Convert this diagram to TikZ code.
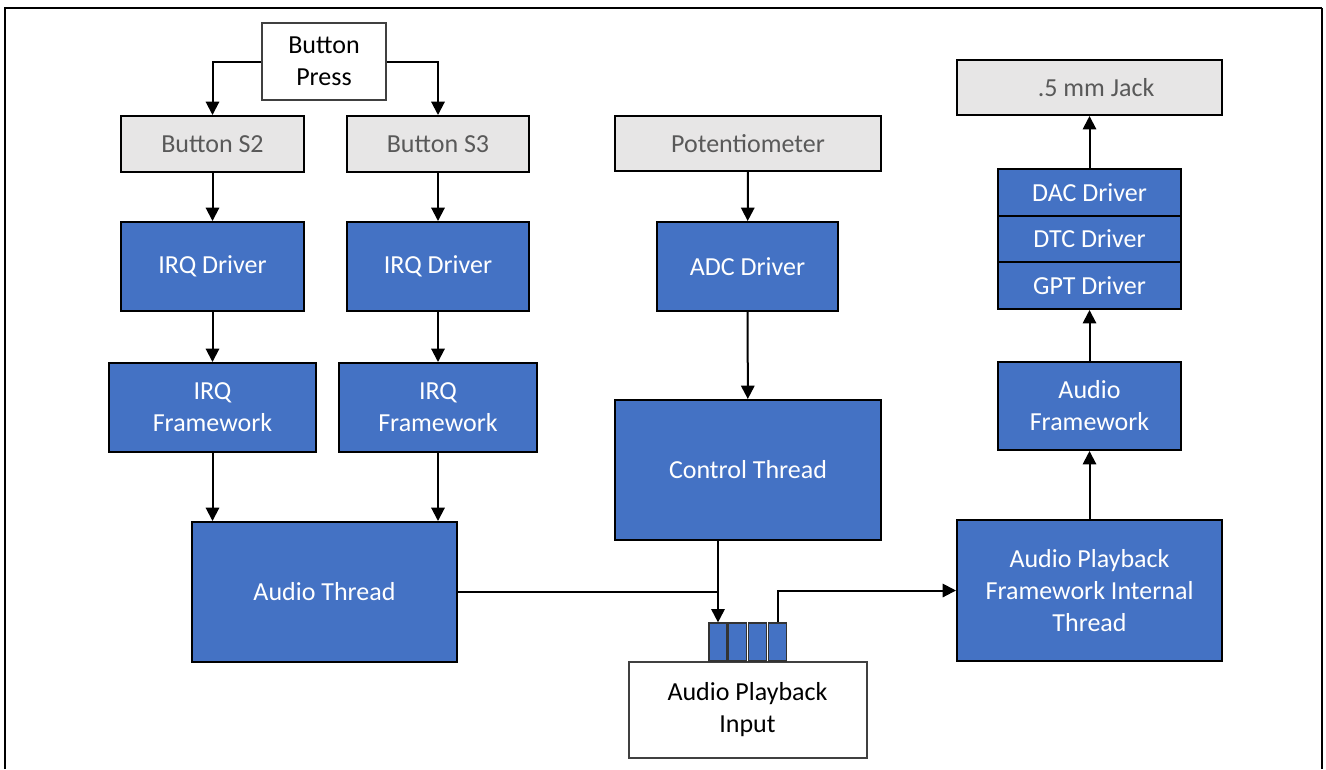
\documentclass[tikz,border=0pt]{standalone}
\usepackage{fontspec}
\setmainfont{Carlito}
\usetikzlibrary{arrows.meta,positioning}

\definecolor{swblue}{HTML}{4472C4}
\definecolor{hwgray}{HTML}{E7E6E6}
\definecolor{hwtext}{HTML}{595959}

\tikzset{
	base/.style={draw=black, line width=1.5pt, align=center, inner sep=0pt,
		font=\fontsize{19.5}{24}\selectfont},
	sw/.style={base, fill=swblue, text=white},
	hw/.style={base, fill=hwgray, text=hwtext},
	io/.style={base, draw=black!75, fill=white, text=black},
	fifo/.style={draw=black!80, line width=0.9pt, fill=swblue, inner sep=0pt,
		minimum width=13.5pt, minimum height=28.5pt},
	sz/.style 2 args={minimum width=#1*0.75pt, minimum height=#2*0.75pt},
	elbow/.style={to path={-| (\tikztotarget)}},
	elbowup/.style={to path={|- (\tikztotarget)}},
}

\begin{document}
\begin{tikzpicture}[x=0.75pt, y=-0.75pt, >={Triangle[width=10pt,length=10pt]}, line width=1.5pt]
		\useasboundingbox (0,0) rectangle (1326,769);
		% frame
		\draw (5,769) -- (5,8) -- (1322,8);
		\draw[line width=1pt] (1322,8) -- (1322,769);
		\draw 
			(324,61.5) node [io, sz={124}{77}] (press) {Button\\Press}
			(212.5,144) node [hw, sz={183}{56}] (s2) {Button S2}
			(438,144) node [hw, sz={182}{56}] (s3) {Button S3}
			(748,143.5) node [hw, sz={266}{55}] (pot) {Potentiometer}
			(1089.5,87.5) node [hw, sz={265}{55}] (jack) {\phantom{3}.5 mm Jack}
			(212.5,266.5) node [sw, sz={183}{89}] (irqa) {IRQ Driver}
			(438,266.5) node [sw, sz={182}{89}] (irqb) {IRQ Driver}
			(747.5,266.5) node [sw, sz={181}{89}] (adc) {ADC Driver}
			(1089.5,192.5) node [sw, sz={183}{47}] (dac) {DAC Driver}
			(1089.5,239) node [sw, sz={183}{46}] (dtc) {DTC Driver}
			(1089.5,285.5) node [sw, sz={183}{47}] (gpt) {GPT Driver}
			(212.5,407.5) node [sw, sz={207}{89}] (fwa) {IRQ\\Framework}
			(438,407.5) node [sw, sz={198}{89}] (fwb) {IRQ\\Framework}
			(748,470) node [sw, sz={266}{140}] (ctrl) {Control Thread}
			(1089.5,406) node [sw, sz={183}{88}] (afw) {Audio\\Framework}
			(324.5,592) node [sw, sz={265}{140}] (athr) {Audio Thread}
			(1089.5,590.5) node [sw, sz={265}{141}] (apfit) {Audio Playback\\Framework Internal\\Thread}
			(747.5,709.5) node [io, sz={238}{96}] (input) {Audio Playback\\Input}
			(718,642) node [fifo] (q1) {}
			(737.5,642) node [fifo] (q2) {}
			(757.5,642) node [fifo] (q3) {}
			(777.5,642) node [fifo] (q4) {}
			;
		% audio thread joins the control thread line
		\draw (athr.east) -- (athr.east -| q1);
		\path[->]
			(press.west) edge [elbow] (s2)
			(press.east) edge [elbow] (s3)
			(s2) edge (irqa)
			(s3) edge (irqb)
			(irqa) edge (fwa)
			(irqb) edge (fwb)
			(fwa.south) edge (fwa.south |- athr.north)
			(fwb.south) edge (fwb.south |- athr.north)
			(pot) edge (adc)
			(adc) edge (ctrl)
			(ctrl.south -| q1) edge (q1)
			(q4) edge [elbowup] (apfit)
			(apfit) edge (afw)
			(afw) edge (gpt)
			(dac) edge (jack)
			;
	\end{tikzpicture}
\end{document}
